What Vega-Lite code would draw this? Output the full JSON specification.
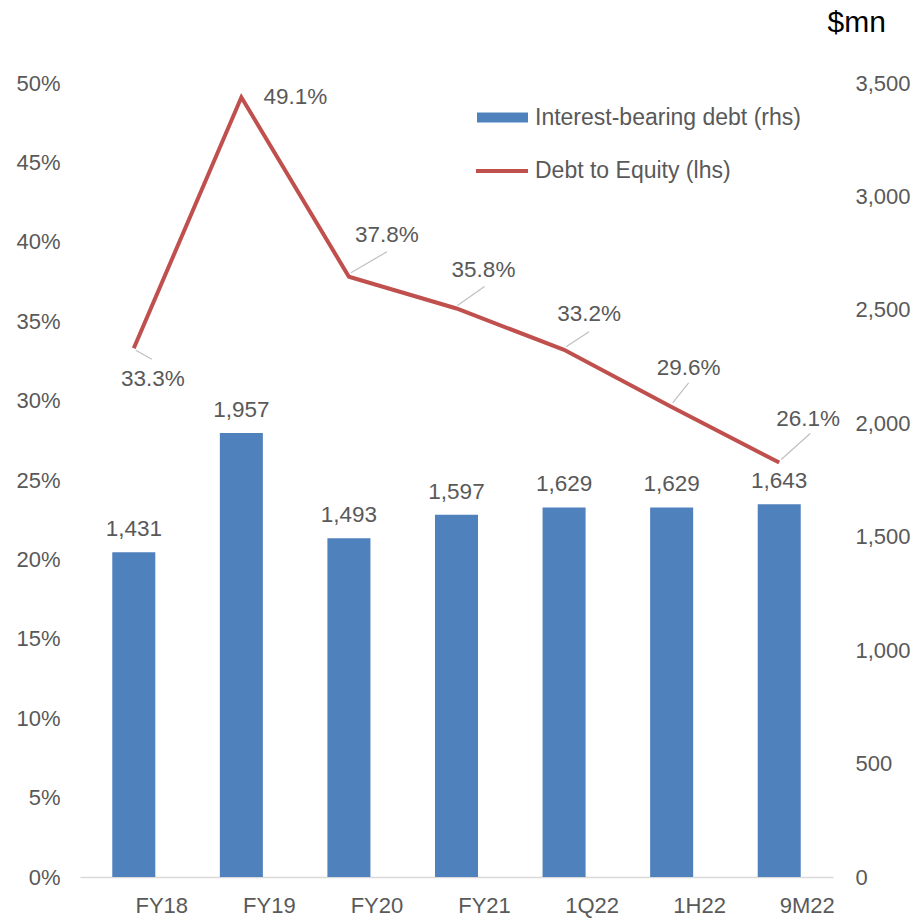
{
  "$schema": "https://vega.github.io/schema/vega-lite/v6.json",
  "width": 753,
  "height": 794,
  "autosize": {"type": "none"},
  "padding": {"left": 80, "top": 83, "right": 83, "bottom": 41},
  "background": "white",
  "config": {
    "view": {"stroke": null},
    "font": "Liberation Sans",
    "text": {"font": "Liberation Sans"}
  },
  "data": {
    "values": [
      {"cat": "FY18", "debt": 1431, "de": 0.333},
      {"cat": "FY19", "debt": 1957, "de": 0.491},
      {"cat": "FY20", "debt": 1493, "de": 0.378},
      {"cat": "FY21", "debt": 1597, "de": 0.358},
      {"cat": "1Q22", "debt": 1629, "de": 0.332},
      {"cat": "1H22", "debt": 1629, "de": 0.296},
      {"cat": "9M22", "debt": 1643, "de": 0.261}
    ]
  },
  "encoding": {
    "x": {
      "field": "cat",
      "type": "nominal",
      "sort": null,
      "scale": {"paddingInner": 0.6, "paddingOuter": 0.3},
      "axis": {
        "title": null,
        "labelAngle": 0,
        "labelOffset": 28,
        "labelPadding": 35,
        "labelBaseline": "alphabetic",
        "ticks": false,
        "tickSize": 0,
        "domainColor": "#D9D9D9",
        "domainWidth": 1.5,
        "labelFontSize": 22,
        "labelColor": "#595959",
        "labelFont": "Liberation Sans"
      }
    }
  },
  "layer": [
    {
      "encoding": {
        "y": {
          "field": "debt",
          "type": "quantitative",
          "scale": {"domain": [0, 3500], "nice": false},
          "axis": {
            "orient": "right",
            "title": "$mn",
            "titleAngle": 0,
            "titleX": -6,
            "titleY": -52,
            "titleAlign": "left",
            "titleBaseline": "alphabetic",
            "titleFontSize": 30,
            "titleFontWeight": "normal",
            "titleColor": "#000000",
            "titleFont": "Liberation Sans",
            "values": [0, 500, 1000, 1500, 2000, 2500, 3000, 3500],
            "format": ",.0f",
            "labelPadding": 22,
            "ticks": false,
            "tickSize": 0,
            "domain": false,
            "grid": false,
            "labelFontSize": 22,
            "labelColor": "#595959",
            "labelAlign": "left",
            "labelBaseline": "middle",
            "labelFont": "Liberation Sans"
          }
        }
      },
      "layer": [
        {
          "mark": {"type": "bar"},
          "encoding": {
            "fill": {
              "datum": "Interest-bearing debt (rhs)",
              "scale": {"range": ["#4F81BD"]},
              "legend": {
                "orient": "none",
                "legendX": 397,
                "legendY": 9,
                "title": null,
                "padding": 0,
                "symbolType": "M-1,-0.2H1V0.2H-1Z",
                "symbolSize": 2601,
                "symbolStrokeWidth": 0,
                "labelOffset": 7,
                "labelFontSize": 23,
                "labelColor": "#595959",
                "labelFont": "Liberation Sans",
                "labelLimit": 400
              }
            }
          }
        },
        {
          "mark": {"type": "text", "dy": -16, "baseline": "alphabetic", "align": "center", "fontSize": 22.5, "color": "#595959"},
          "encoding": {"text": {"field": "debt", "type": "quantitative", "format": ",.0f"}}
        }
      ]
    },
    {
      "encoding": {
        "y": {
          "field": "de",
          "type": "quantitative",
          "scale": {"domain": [0, 0.5], "nice": false},
          "axis": {
            "orient": "left",
            "title": null,
            "values": [0, 0.05, 0.1, 0.15, 0.2, 0.25, 0.3, 0.35, 0.4, 0.45, 0.5],
            "format": ".0%",
            "labelPadding": 20,
            "ticks": false,
            "tickSize": 0,
            "domain": false,
            "grid": false,
            "labelFontSize": 22,
            "labelColor": "#595959",
            "labelAlign": "right",
            "labelBaseline": "middle",
            "labelFont": "Liberation Sans"
          }
        }
      },
      "layer": [
        {
          "mark": {"type": "line", "strokeWidth": 4, "strokeJoin": "miter"},
          "encoding": {
            "stroke": {
              "datum": "Debt to Equity (lhs)",
              "scale": {"range": ["#C0504D"]},
              "legend": {
                "orient": "none",
                "legendX": 394,
                "legendY": 60,
                "title": null,
                "padding": 0,
                "symbolType": "stroke",
                "symbolSize": 2704,
                "symbolStrokeWidth": 4,
                "labelOffset": 5,
                "labelFontSize": 23,
                "labelColor": "#595959",
                "labelFont": "Liberation Sans",
                "labelLimit": 400
              }
            }
          }
        },
        {
          "transform": [{"filter": "datum.cat == 'FY18'"}],
          "mark": {"type": "rule", "color": "#BFBFBF", "strokeWidth": 1.2, "xOffset": 2, "yOffset": 2, "x2Offset": 18, "y2Offset": 11},
          "encoding": {"x2": {"field": "cat"}, "y2": {"field": "de"}}
        },
        {
          "transform": [{"filter": "datum.cat == 'FY20'"}],
          "mark": {"type": "rule", "color": "#BFBFBF", "strokeWidth": 1.2, "xOffset": 2, "yOffset": -4, "x2Offset": 38, "y2Offset": -25},
          "encoding": {"x2": {"field": "cat"}, "y2": {"field": "de"}}
        },
        {
          "transform": [{"filter": "datum.cat == 'FY21'"}],
          "mark": {"type": "rule", "color": "#BFBFBF", "strokeWidth": 1.2, "xOffset": 1, "yOffset": -3, "x2Offset": 28, "y2Offset": -22},
          "encoding": {"x2": {"field": "cat"}, "y2": {"field": "de"}}
        },
        {
          "transform": [{"filter": "datum.cat == '1Q22'"}],
          "mark": {"type": "rule", "color": "#BFBFBF", "strokeWidth": 1.2, "xOffset": 2, "yOffset": -3, "x2Offset": 25, "y2Offset": -18},
          "encoding": {"x2": {"field": "cat"}, "y2": {"field": "de"}}
        },
        {
          "transform": [{"filter": "datum.cat == '1H22'"}],
          "mark": {"type": "rule", "color": "#BFBFBF", "strokeWidth": 1.2, "xOffset": 1, "yOffset": -4, "x2Offset": 17, "y2Offset": -24},
          "encoding": {"x2": {"field": "cat"}, "y2": {"field": "de"}}
        },
        {
          "transform": [{"filter": "datum.cat == '9M22'"}],
          "mark": {"type": "rule", "color": "#BFBFBF", "strokeWidth": 1.2, "xOffset": 2, "yOffset": -3, "x2Offset": 31, "y2Offset": -29},
          "encoding": {"x2": {"field": "cat"}, "y2": {"field": "de"}}
        },
        {
          "transform": [{"filter": "datum.cat == 'FY18'"}],
          "mark": {"type": "text", "dx": 19, "dy": 31, "baseline": "middle", "align": "center", "fontSize": 22.5, "color": "#595959"},
          "encoding": {"text": {"field": "de", "type": "quantitative", "format": ".1%"}}
        },
        {
          "transform": [{"filter": "datum.cat == 'FY19'"}],
          "mark": {"type": "text", "dx": 54, "dy": 0, "baseline": "middle", "align": "center", "fontSize": 22.5, "color": "#595959"},
          "encoding": {"text": {"field": "de", "type": "quantitative", "format": ".1%"}}
        },
        {
          "transform": [{"filter": "datum.cat == 'FY20'"}],
          "mark": {"type": "text", "dx": 38, "dy": -42, "baseline": "middle", "align": "center", "fontSize": 22.5, "color": "#595959"},
          "encoding": {"text": {"field": "de", "type": "quantitative", "format": ".1%"}}
        },
        {
          "transform": [{"filter": "datum.cat == 'FY21'"}],
          "mark": {"type": "text", "dx": 27, "dy": -38, "baseline": "middle", "align": "center", "fontSize": 22.5, "color": "#595959"},
          "encoding": {"text": {"field": "de", "type": "quantitative", "format": ".1%"}}
        },
        {
          "transform": [{"filter": "datum.cat == '1Q22'"}],
          "mark": {"type": "text", "dx": 25, "dy": -36, "baseline": "middle", "align": "center", "fontSize": 22.5, "color": "#595959"},
          "encoding": {"text": {"field": "de", "type": "quantitative", "format": ".1%"}}
        },
        {
          "transform": [{"filter": "datum.cat == '1H22'"}],
          "mark": {"type": "text", "dx": 17, "dy": -39, "baseline": "middle", "align": "center", "fontSize": 22.5, "color": "#595959"},
          "encoding": {"text": {"field": "de", "type": "quantitative", "format": ".1%"}}
        },
        {
          "transform": [{"filter": "datum.cat == '9M22'"}],
          "mark": {"type": "text", "dx": 29, "dy": -44, "baseline": "middle", "align": "center", "fontSize": 22.5, "color": "#595959"},
          "encoding": {"text": {"field": "de", "type": "quantitative", "format": ".1%"}}
        }
      ]
    }
  ],
  "resolve": {"scale": {"y": "independent"}}
}
